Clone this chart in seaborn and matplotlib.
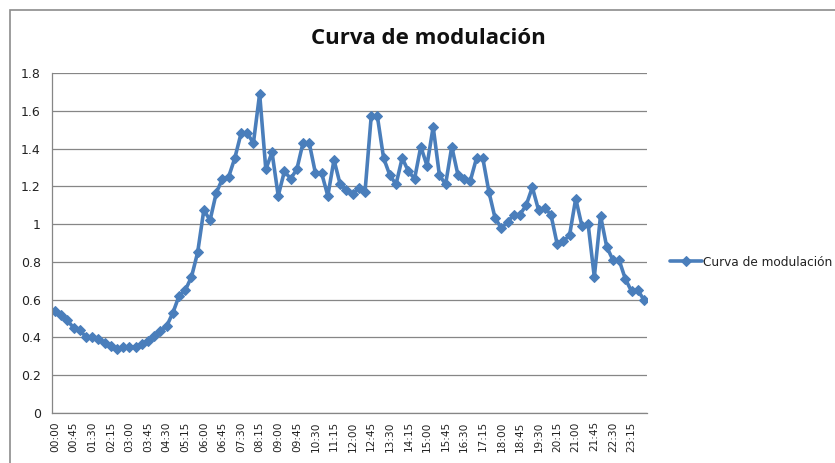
import matplotlib
matplotlib.use("Agg")
import matplotlib.pyplot as plt
import seaborn as sns
import numpy as np
import pandas as pd
from matplotlib.patches import Rectangle

# horas cada 15 minutos
horas = [f"{h:02d}:{m:02d}" for h in range(24) for m in (0, 15, 30, 45)]

modulacion = [
    0.54, 0.52, 0.49, 0.45,   # 00
    0.44, 0.40, 0.40, 0.39,   # 01
    0.37, 0.355, 0.34, 0.35,  # 02
    0.35, 0.35, 0.365, 0.38,  # 03
    0.41, 0.435, 0.46, 0.53,  # 04
    0.62, 0.65, 0.72, 0.85,   # 05
    1.075, 1.02, 1.165, 1.24, # 06
    1.25, 1.35, 1.48, 1.48,   # 07
    1.43, 1.69, 1.29, 1.38,   # 08
    1.15, 1.28, 1.24, 1.29,   # 09
    1.43, 1.43, 1.27, 1.27,   # 10
    1.15, 1.34, 1.21, 1.18,   # 11
    1.16, 1.19, 1.17, 1.57,   # 12
    1.57, 1.35, 1.26, 1.21,   # 13
    1.35, 1.28, 1.24, 1.41,   # 14
    1.31, 1.515, 1.26, 1.21,  # 15
    1.41, 1.26, 1.24, 1.23,   # 16
    1.35, 1.35, 1.17, 1.03,   # 17
    0.98, 1.01, 1.05, 1.05,   # 18
    1.10, 1.195, 1.075, 1.085,# 19
    1.05, 0.895, 0.91, 0.94,  # 20
    1.135, 0.99, 1.00, 0.72,  # 21
    1.045, 0.88, 0.81, 0.81,  # 22
    0.71, 0.645, 0.65, 0.60,  # 23
]

df = pd.DataFrame({"hora": horas, "valor": modulacion})
df["pos"] = np.arange(len(df))

sns.set_style("white")
plt.rcParams["font.family"] = ["DejaVu Sans"]

fig = plt.figure(figsize=(8.35, 4.63), dpi=100)
ax = fig.add_axes([52 / 835, 50 / 463, 595 / 835, 340 / 463])

azul = "#4A7EBB"
sns.lineplot(data=df, x="pos", y="valor", ax=ax, color=azul, lw=2.6,
             marker="D", markersize=5.5, markeredgecolor=azul,
             label="Curva de modulación", legend=False)

ax.set_xlim(-0.5, len(df) - 0.5)
ax.set_ylim(0, 1.8)
ax.set_yticks(np.arange(0, 1.81, 0.2))
ax.set_yticklabels(["0"] + [f"{v:.1f}".rstrip("0").rstrip(".") for v in np.arange(0.2, 1.81, 0.2)],
                   fontsize=9, color="#222222")
ax.set_xticks(df["pos"][::3])
ax.set_xticklabels(df["hora"][::3], rotation=90, fontsize=7.6, color="#222222")
ax.set_xticks(np.arange(-0.5, len(df), 1), minor=True)
ax.tick_params(axis="x", which="major", length=0, pad=6)
ax.tick_params(axis="x", which="minor", length=5, color="#868686", width=0.8, direction="out")
ax.tick_params(axis="y", length=5, color="#868686", width=0.8, direction="out", pad=3)
ax.set_xlabel("")
ax.set_ylabel("")

ax.grid(axis="y", color="#868686", lw=0.9)
ax.set_axisbelow(True)
for s in ["top", "right"]:
    ax.spines[s].set_visible(False)
for s in ["left", "bottom"]:
    ax.spines[s].set_color("#868686")
    ax.spines[s].set_linewidth(0.9)

fig.text(428 / 835, 1 - 38 / 463, "Curva de modulación", ha="center", va="center",
         fontsize=16, fontweight="bold", family="Open Sans", color="#111111")

h, l = ax.get_legend_handles_labels()
fig.legend(h, l, loc="center left", bbox_to_anchor=(662 / 835, 1 - 262 / 463),
           frameon=False, fontsize=8.7, handlelength=2.6, handletextpad=0.1,
           borderpad=0.2, labelcolor="#222222")

# borde del gráfico
fig.patches.append(Rectangle((9.5 / 835, -0.1), 1.0, 1 - 10 / 463 + 0.1,
                             transform=fig.transFigure, fill=False,
                             edgecolor="#8c8c8c", lw=1.2))

fig.savefig("out.png", dpi=100)
